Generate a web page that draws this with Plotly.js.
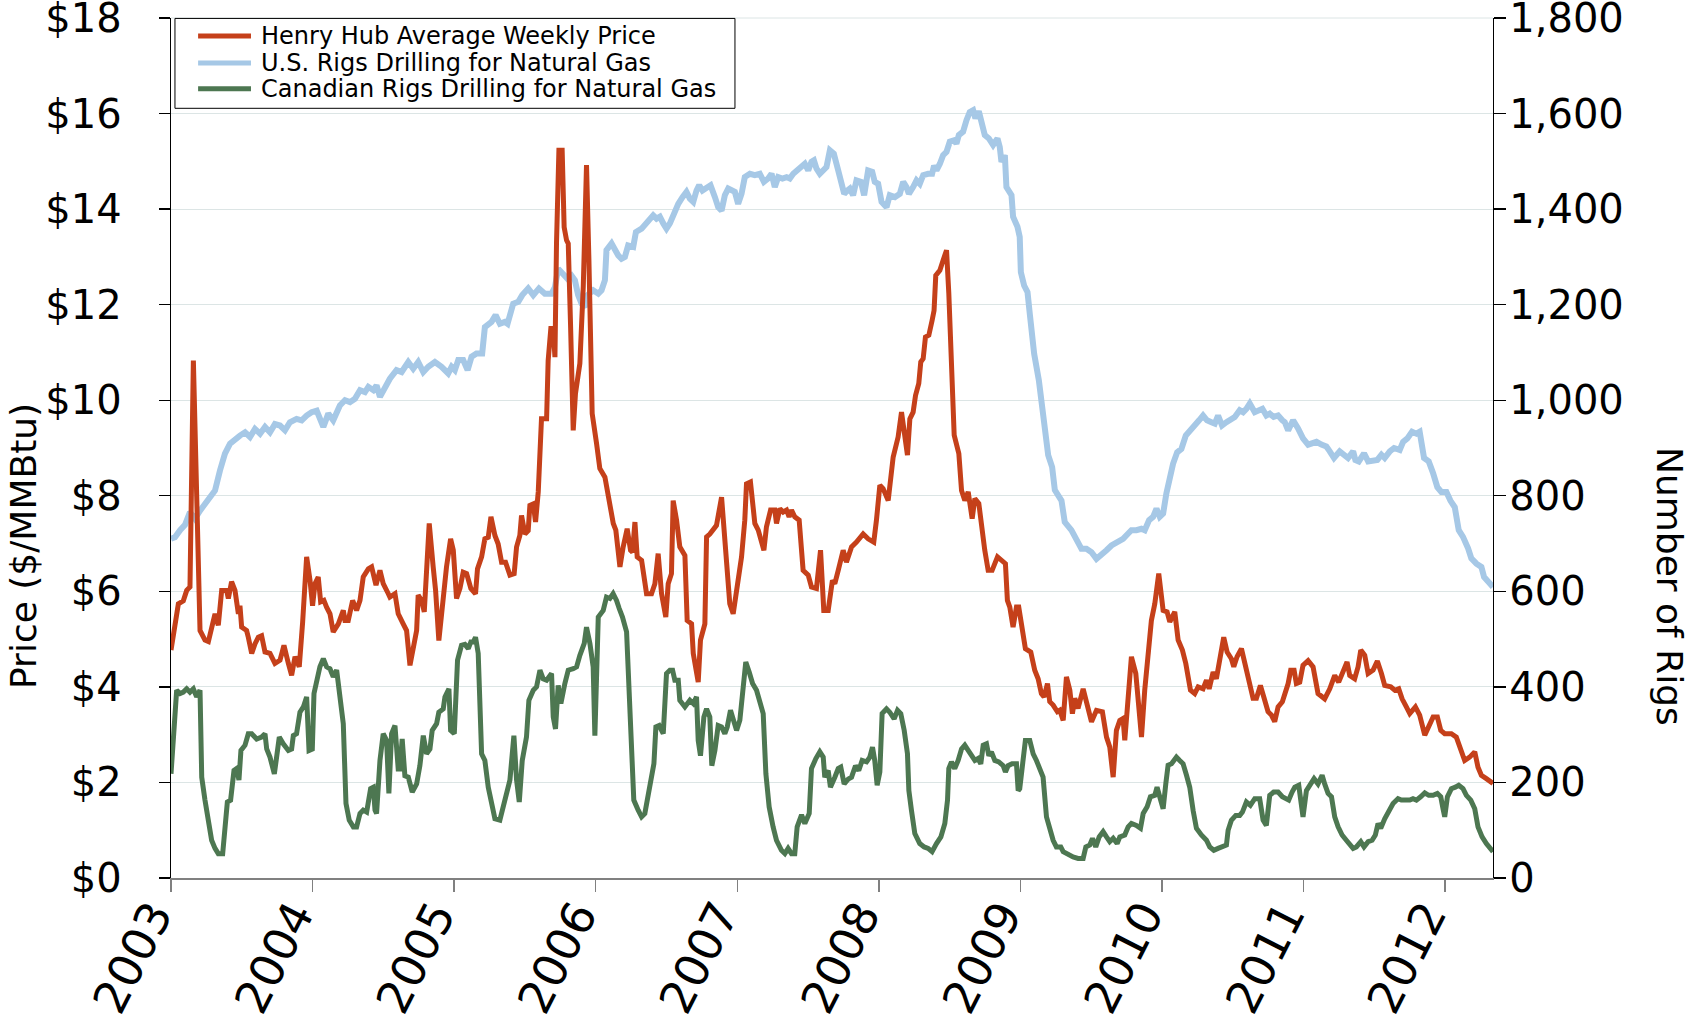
<!DOCTYPE html>
<html>
<head>
<meta charset="utf-8">
<script src="https://cdn.plot.ly/plotly-3.0.1.min.js"></script>
<style>html,body{margin:0;padding:0;background:#fff;}#chart{width:1692px;height:1024px;}</style>
</head>
<body>
<div id="chart"></div>
<script>
// ---- Data (decimal years) ----
const yearTicks = [2003, 2004, 2005, 2006, 2007, 2008, 2009, 2010, 2011, 2012];
const yearLabels = ["2003", "2004", "2005", "2006", "2007", "2008", "2009", "2010", "2011", "2012"];
const priceTicks = [0, 2, 4, 6, 8, 10, 12, 14, 16, 18];
const priceLabels = ["$0", "$2", "$4", "$6", "$8", "$10", "$12", "$14", "$16", "$18"];
const rigTicks = [0, 200, 400, 600, 800, 1000, 1200, 1400, 1600, 1800];
const rigLabels = ["0", "200", "400", "600", "800", "1,000", "1,200", "1,400", "1,600", "1,800"];
const seriesNames = ["Henry Hub Average Weekly Price", "U.S. Rigs Drilling for Natural Gas", "Canadian Rigs Drilling for Natural Gas"];

// Henry Hub Average Weekly Price ($/MMBtu)
const hhDates = [
2003.000,2003.052,2003.087,2003.111,2003.134,2003.158,2003.205,2003.240,2003.264,2003.311,
2003.334,2003.358,2003.393,2003.405,2003.428,2003.452,2003.476,2003.487,2003.499,2003.534,
2003.546,2003.570,2003.593,2003.617,2003.640,2003.664,2003.699,2003.734,2003.770,2003.798,
2003.829,2003.852,2003.876,2003.906,2003.930,2003.958,2003.982,2004.000,2004.017,2004.040,
2004.057,2004.080,2004.099,2004.123,2004.146,2004.182,2004.217,2004.229,2004.252,2004.283,
2004.311,2004.335,2004.358,2004.394,2004.417,2004.448,2004.476,2004.499,2004.535,
2004.546,2004.582,2004.605,2004.640,2004.664,2004.688,2004.711,2004.735,2004.746,2004.770,
2004.789,2004.824,2004.852,2004.869,2004.892,2004.923,2004.946,2004.975,2004.994,2005.017,
2005.041,2005.064,2005.088,2005.118,2005.151,2005.165,2005.194,2005.217,2005.241,2005.260,
2005.288,2005.311,2005.335,2005.363,2005.394,2005.424,2005.441,2005.464,2005.476,2005.500,
2005.523,2005.535,2005.559,2005.575,2005.594,
2005.617,2005.653,2005.664,2005.683,2005.700,2005.712,2005.723,2005.740,2005.763,2005.777,
2005.794,2005.806,2005.822,2005.841,2005.857,2005.888,2005.912,2005.935,2005.952,2005.975,
2006.006,2006.029,2006.065,
2006.124,2006.142,2006.171,2006.194,2006.222,2006.246,2006.260,2006.277,2006.293,2006.324,
2006.359,2006.394,2006.418,2006.441,2006.465,2006.495,2006.512,2006.535,2006.547,2006.571,
2006.594,2006.630,2006.646,2006.677,2006.689,2006.724,2006.740,2006.771,2006.783,2006.806,
2006.830,2006.853,2006.889,2006.924,2006.947,2006.971,2007.006,2007.030,2007.053,2007.065,
2007.093,2007.124,2007.148,2007.188,2007.206,2007.235,2007.265,2007.277,2007.301,2007.324,
2007.348,2007.366,2007.383,2007.406,2007.437,2007.465,2007.501,2007.524,2007.559,2007.588,
2007.611,2007.642,2007.672,
2007.689,2007.713,2007.748,2007.771,2007.807,2007.842,2007.889,2007.924,2007.964,2007.983,
2008.007,2008.030,2008.066,2008.101,2008.136,2008.160,2008.183,2008.202,2008.219,2008.242,
2008.259,2008.282,2008.296,2008.313,2008.329,2008.353,2008.376,2008.390,2008.402,2008.431,
2008.454,2008.478,2008.494,2008.513,2008.532,2008.565,2008.584,2008.607,2008.631,2008.659,
2008.678,2008.706,2008.725,2008.748,2008.772,2008.800,2008.838,2008.866,2008.894,2008.908,
2008.925,2008.948,2008.972,2008.988,2009.012,2009.035,2009.073,2009.101,2009.125,2009.148,
2009.167,2009.191,2009.207,2009.231,2009.261,
2009.278,2009.302,2009.325,2009.349,2009.367,2009.384,2009.407,2009.443,2009.466,2009.502,
2009.537,2009.579,2009.608,2009.631,2009.655,2009.678,2009.702,2009.725,2009.737,2009.761,
2009.784,2009.815,2009.838,2009.855,2009.878,2009.902,2009.925,2009.949,2009.977,2010.008,
2010.036,2010.055,2010.090,2010.114,2010.144,2010.168,2010.201,2010.231,2010.255,2010.290,
2010.314,2010.333,2010.361,2010.384,2010.408,2010.436,2010.460,2010.490,2010.507,2010.530,
2010.561,2010.584,2010.608,2010.643,2010.667,2010.695,2010.719,2010.749,2010.773,2010.796,
2010.820,2010.850,
2010.891,2010.909,2010.933,2010.949,2010.973,2010.996,2011.032,2011.067,2011.102,2011.149,
2011.185,2011.220,2011.248,2011.279,2011.307,2011.326,2011.361,2011.385,2011.404,2011.432,
2011.456,2011.491,2011.521,2011.550,2011.573,2011.616,2011.644,2011.672,2011.696,2011.726,
2011.750,2011.790,2011.820,2011.856,2011.879,2011.915,2011.945,2011.969,2011.997,2012.044,
2012.079,2012.115,2012.138,2012.173,2012.209,2012.232,2012.256,2012.291,2012.338
];
const hhPrice = [
4.77,5.74,5.80,6.02,6.09,10.83,5.18,4.98,4.95,5.53,
5.29,6.02,6.02,5.85,6.20,6.02,5.53,5.70,5.25,5.18,
5.04,4.70,4.90,5.04,5.07,4.73,4.70,4.49,4.56,4.87,
4.49,4.24,4.63,4.42,5.36,6.72,6.23,5.70,6.16,6.30,
5.78,5.81,5.67,5.53,5.15,5.32,5.60,5.39,5.39,5.81,
5.60,5.81,6.30,6.47,6.51,6.13,6.44,6.16,5.95,
5.88,5.95,5.53,5.32,5.18,4.45,4.87,5.18,5.92,5.81,
5.57,7.42,6.51,6.02,4.97,5.88,6.51,7.10,6.86,5.85,
6.06,6.40,6.37,6.06,5.95,6.47,6.72,7.10,7.13,7.56,
7.17,6.99,6.61,6.61,6.34,6.37,6.93,7.17,7.59,7.20,
7.27,7.80,7.83,7.45,8.08,
9.61,9.61,10.83,11.50,11.50,10.90,13.28,15.23,15.23,13.62,
13.35,13.28,11.60,9.37,10.14,10.77,12.37,14.92,12.93,9.72,
9.09,8.57,8.39,
7.42,7.28,6.51,6.93,7.31,6.86,6.82,7.45,6.72,6.65,
5.95,5.95,6.16,6.79,5.95,5.46,6.16,6.37,7.90,7.49,
6.93,6.75,5.39,5.32,4.70,4.10,4.98,5.32,7.14,7.20,
7.31,7.38,7.97,6.79,5.74,5.53,6.16,6.72,7.49,8.25,
8.29,7.42,7.28,6.86,7.35,7.70,7.70,7.42,7.73,7.66,
7.70,7.56,7.70,7.56,7.49,6.44,6.34,6.09,6.06,6.86,
5.60,5.60,6.23,
6.16,6.44,6.86,6.61,6.93,7.03,7.20,7.10,7.03,7.49,
8.22,8.15,7.90,8.81,9.23,9.75,9.18,8.85,9.61,9.75,
10.10,10.35,10.80,10.87,11.32,11.36,11.67,11.88,12.61,12.72,
12.93,13.14,12.24,10.97,9.27,8.88,8.11,7.90,8.08,7.52,
7.94,7.84,7.28,6.86,6.44,6.44,6.72,6.65,6.58,5.81,
5.67,5.25,5.67,5.67,5.25,4.80,4.73,4.35,4.17,3.86,
3.79,4.07,3.69,3.62,3.48,
3.51,3.30,4.21,3.93,3.44,3.76,3.55,3.96,3.65,3.27,
3.51,3.48,2.95,2.74,2.11,3.09,3.30,3.34,2.88,3.93,
4.63,4.28,3.51,2.95,3.93,4.63,5.39,5.74,6.37,5.60,
5.57,5.36,5.57,4.98,4.77,4.49,3.93,3.86,4.00,3.96,
4.14,3.96,4.31,4.17,4.59,5.04,4.73,4.59,4.42,4.63,
4.80,4.49,4.21,3.76,3.76,4.03,3.79,3.48,3.41,3.27,
3.58,3.69,
4.07,4.35,4.35,4.07,4.10,4.45,4.55,4.42,3.86,3.75,
3.96,4.24,4.10,4.31,4.52,4.24,4.17,4.42,4.77,4.66,
4.28,4.35,4.54,4.28,4.03,4.00,3.93,3.96,3.75,3.58,
3.44,3.58,3.41,2.99,3.13,3.37,3.37,3.09,3.02,3.02,
2.95,2.67,2.46,2.53,2.64,2.32,2.15,2.08,1.98
];

// U.S. Rigs Drilling for Natural Gas
const usDates = [
2003.000,2003.028,2003.064,2003.099,2003.134,2003.169,2003.205,2003.240,2003.275,2003.311,
2003.346,2003.381,2003.417,2003.452,2003.487,2003.523,2003.558,2003.593,2003.629,2003.664,
2003.699,2003.734,2003.770,2003.805,2003.840,2003.887,2003.923,2003.958,2003.993,2004.029,
2004.052,2004.076,2004.111,2004.146,2004.193,2004.229,2004.264,2004.299,2004.335,2004.370,
2004.394,2004.429,2004.452,2004.476,
2004.546,2004.593,2004.629,2004.676,2004.711,2004.746,2004.782,2004.817,2004.864,2004.911,
2004.958,2004.982,2005.005,2005.029,2005.064,2005.095,2005.123,2005.158,2005.198,2005.217,
2005.264,2005.293,2005.323,2005.358,2005.377,2005.417,2005.453,2005.481,2005.523,2005.559,
2005.599,2005.641,2005.688,2005.712,2005.735,2005.770,2005.801,2005.829,2005.853,2005.876,
2005.900,2005.923,2005.942,2005.982,2006.018,2006.041,2006.065,2006.076,2006.112,
2006.159,2006.182,2006.206,2006.229,2006.265,2006.284,2006.324,2006.359,2006.406,2006.430,
2006.453,2006.477,2006.500,2006.524,2006.552,2006.583,2006.613,2006.641,2006.665,2006.689,
2006.712,2006.731,2006.754,2006.783,2006.811,2006.842,2006.865,2006.889,2006.912,2006.936,
2006.959,2006.983,2007.006,2007.030,2007.053,2007.089,2007.124,2007.159,2007.188,2007.218,
2007.242,2007.265,2007.289,2007.319,2007.348,2007.371,2007.395,2007.423,2007.454,2007.477,
2007.501,2007.524,2007.541,2007.559,2007.583,2007.607,2007.630,2007.654,2007.682,
2007.713,2007.736,2007.755,2007.778,2007.795,2007.818,2007.842,2007.873,2007.896,2007.924,
2007.953,2007.971,2007.995,2008.019,2008.054,2008.077,2008.113,2008.148,2008.172,2008.195,
2008.212,2008.242,2008.266,2008.289,2008.313,2008.348,2008.376,2008.390,2008.407,2008.431,
2008.454,2008.478,2008.501,2008.532,2008.548,2008.565,2008.595,2008.619,2008.642,2008.666,
2008.682,2008.706,2008.725,2008.748,2008.777,2008.807,2008.838,2008.854,2008.866,2008.890,
2008.901,2008.937,2008.948,2008.979,2008.995,2009.003,2009.026,2009.050,2009.066,2009.097,
2009.130,2009.160,2009.196,2009.224,2009.243,
2009.290,2009.313,2009.360,2009.396,2009.431,2009.466,2009.502,2009.537,2009.572,2009.608,
2009.643,2009.690,2009.725,2009.761,2009.784,2009.819,2009.855,2009.878,2009.909,2009.937,
2009.961,2009.984,2010.008,2010.031,2010.055,2010.078,2010.107,2010.137,2010.168,2010.196,
2010.231,2010.262,2010.290,2010.318,2010.349,2010.373,2010.396,2010.424,2010.455,2010.490,
2010.514,2010.549,2010.573,2010.596,2010.620,2010.655,2010.683,2010.709,2010.737,2010.761,
2010.789,2010.820,2010.850,
2010.867,2010.891,2010.926,2010.961,2010.996,2011.032,2011.067,2011.091,2011.126,2011.161,
2011.185,2011.215,2011.255,2011.291,2011.314,2011.350,2011.366,2011.390,2011.427,2011.456,
2011.491,2011.521,2011.550,2011.573,2011.609,2011.639,2011.679,2011.703,2011.733,2011.766,
2011.797,2011.820,2011.851,2011.884,2011.915,2011.945,2011.973,2012.009,2012.037,2012.068,
2012.096,2012.126,2012.162,2012.185,2012.221,2012.256,2012.275,2012.298,2012.315,2012.338
];
const usRigs = [
710,713,728,739,766,752,769,783,794,811,
853,888,909,919,926,933,923,940,930,944,
933,950,947,937,954,961,958,968,975,978,
961,944,972,958,989,1000,996,1003,1021,1017,
1028,1021,1031,1007,
1045,1063,1059,1080,1066,1080,1059,1070,1080,1070,
1056,1070,1063,1084,1084,1063,1091,1098,1098,1153,
1164,1178,1160,1164,1160,1202,1206,1220,1234,1220,
1234,1223,1223,1237,1275,1265,1254,1261,1251,1220,
1202,1195,1220,1230,1223,1230,1251,1314,1328,
1303,1296,1300,1324,1321,1352,1359,1370,1387,1380,
1384,1370,1359,1370,1391,1411,1425,1436,1422,1415,
1439,1450,1439,1446,1450,1425,1404,1397,1429,1443,
1439,1436,1411,1432,1467,1474,1471,1474,1457,1464,
1474,1446,1467,1464,1467,1464,1474,1481,1488,1495,
1481,1499,1502,1485,1474,1481,1488,1523,1516,
1481,1453,1432,1439,1443,1429,1460,1457,1429,1481,
1478,1457,1453,1415,1404,1429,1425,1432,1457,1446,
1432,1446,1460,1453,1471,1474,1474,1491,1481,1495,
1513,1520,1541,1544,1537,1555,1562,1586,1603,1607,
1590,1605,1586,1555,1548,1534,1548,1530,1499,1513,
1446,1429,1384,1363,1342,1268,1240,1226,1181,1097,
1042,979,885,860,812,
790,745,728,710,689,689,682,668,679,686,
696,703,710,721,728,728,731,728,749,756,
773,756,763,805,840,867,891,898,926,937,
947,958,968,958,954,951,968,947,954,961,
965,979,975,982,993,975,979,982,968,972,
965,968,958,
954,937,958,941,920,907,910,913,907,903,
893,879,893,886,879,893,875,872,889,872,
875,875,886,879,893,900,896,913,920,934,
930,934,879,872,847,818,808,808,790,776,
728,714,690,669,658,651,630,623,616,609
];

// Canadian Rigs Drilling for Natural Gas
const caDates = [
2003.000,2003.016,2003.040,2003.064,2003.087,2003.111,2003.134,2003.158,2003.181,2003.205,
2003.217,2003.240,2003.264,2003.287,2003.311,2003.334,2003.365,2003.381,2003.398,2003.421,
2003.445,2003.464,2003.480,2003.494,2003.523,2003.546,2003.570,2003.605,2003.640,2003.664,
2003.676,2003.699,2003.730,2003.746,2003.765,2003.793,2003.829,2003.852,2003.864,2003.887,
2003.911,2003.935,2003.958,2003.975,2003.998,2004.010,2004.029,2004.052,2004.076,2004.099,
2004.123,2004.146,2004.170,2004.193,2004.217,2004.236,2004.259,2004.288,2004.311,2004.335,
2004.358,2004.382,2004.410,2004.429,2004.441,2004.452,2004.476,2004.499,2004.523,
2004.539,2004.558,2004.582,2004.605,2004.617,2004.633,2004.652,2004.676,2004.704,2004.735,
2004.758,2004.782,2004.805,2004.829,2004.845,2004.876,2004.892,2004.923,2004.935,2004.963,
2004.975,2005.001,2005.024,2005.052,2005.076,2005.100,2005.118,2005.135,2005.151,2005.170,
2005.194,2005.217,2005.241,2005.269,2005.288,2005.323,2005.347,2005.370,2005.394,2005.422,
2005.441,2005.460,2005.481,2005.511,2005.528,2005.559,2005.582,2005.606,2005.629,2005.653,
2005.688,2005.700,2005.716,2005.735,2005.754,2005.782,2005.806,2005.841,2005.865,2005.888,
2005.919,2005.935,2005.959,2005.982,2005.994,2006.018,2006.053,2006.076,2006.100,2006.123,
2006.147,2006.166,2006.189,2006.218,2006.237,2006.253,2006.269,2006.300,2006.324,2006.347,
2006.371,2006.394,2006.411,2006.425,2006.448,2006.477,2006.500,2006.524,2006.543,2006.559,
2006.583,2006.594,2006.630,2006.665,2006.689,2006.712,2006.724,2006.740,2006.764,2006.783,
2006.806,2006.820,2006.842,2006.865,2006.889,2006.912,2006.929,2006.952,2006.976,2006.995,
2007.018,2007.037,2007.060,2007.084,2007.108,2007.136,2007.159,2007.183,2007.202,2007.225,
2007.253,2007.277,2007.312,2007.336,2007.359,2007.383,2007.406,2007.423,2007.454,2007.477,
2007.508,2007.524,2007.555,2007.583,2007.607,2007.618,2007.642,2007.658,2007.689,
2007.713,2007.731,2007.755,2007.783,2007.807,2007.835,2007.858,2007.882,2007.913,2007.936,
2007.955,2007.971,2007.988,2008.007,2008.023,2008.054,2008.077,2008.108,2008.132,2008.155,
2008.179,2008.202,2008.212,2008.230,2008.254,2008.289,2008.320,2008.348,2008.376,2008.407,
2008.438,2008.466,2008.485,2008.494,2008.513,2008.536,2008.560,2008.584,2008.607,2008.631,
2008.654,2008.678,2008.701,2008.720,2008.737,2008.760,2008.777,2008.795,2008.819,2008.847,
2008.878,2008.894,2008.913,2008.941,2008.972,2008.984,2008.995,2009.019,2009.035,2009.066,
2009.090,2009.113,2009.137,2009.160,2009.184,2009.207,2009.231,2009.254,2009.285,
2009.302,2009.337,2009.372,2009.407,2009.443,2009.462,2009.490,2009.509,2009.532,2009.556,
2009.584,2009.608,2009.631,2009.655,2009.683,2009.702,2009.737,2009.761,2009.784,2009.819,
2009.848,2009.867,2009.895,2009.918,2009.949,2009.965,2009.984,2010.008,2010.027,2010.043,
2010.067,2010.102,2010.125,2010.149,2010.173,2010.196,2010.220,2010.243,2010.278,2010.314,
2010.337,2010.366,2010.396,2010.427,2010.455,2010.467,2010.490,2010.521,2010.549,2010.568,
2010.596,2010.624,2010.655,2010.690,2010.714,2010.737,2010.761,2010.789,2010.820,2010.850,
2010.895,2010.919,2010.938,2010.966,2010.996,2011.020,2011.044,2011.074,2011.102,2011.131,
2011.149,2011.173,2011.197,2011.220,2011.244,2011.272,2011.302,2011.326,2011.350,2011.373,
2011.404,2011.427,2011.456,2011.484,2011.507,2011.526,2011.545,2011.573,2011.601,2011.632,
2011.667,2011.691,2011.719,2011.750,2011.773,2011.797,2011.827,2011.856,2011.884,2011.915,
2011.945,2011.969,2011.985,2011.997,2012.016,2012.044,2012.072,2012.096,2012.126,2012.150,
2012.181,2012.209,2012.232,2012.261,2012.291,2012.315,2012.338
];
const caRigs = [
218,288,393,386,389,396,389,396,379,393,
211,163,114,79,62,51,51,100,159,163,
225,229,205,267,278,302,302,291,295,302,
270,253,218,253,295,281,267,270,298,302,
347,358,379,267,270,386,414,442,459,442,
438,421,435,372,323,156,121,107,107,135,
142,138,187,190,142,135,246,302,288,
177,302,319,228,228,291,214,211,180,197,
235,298,260,270,309,323,347,354,379,396,
309,302,456,487,489,480,494,494,504,470,
260,246,190,142,124,121,149,177,205,298,
205,159,246,295,372,393,400,435,417,414,
428,337,312,403,365,407,435,438,442,466,
491,525,491,442,298,546,560,588,585,595,
581,564,546,515,393,246,163,142,128,135,
177,225,239,316,319,302,428,435,435,414,
414,372,358,372,365,379,288,256,337,354,
337,235,267,319,316,302,316,351,323,309,
330,400,452,431,407,393,365,344,218,149,
107,79,58,51,62,51,51,107,132,114,
135,229,250,264,253,211,225,190,211,
229,232,197,207,211,235,225,246,243,253,
274,246,194,222,344,354,347,333,351,344,
309,260,183,142,93,72,65,62,55,72,
86,114,163,229,243,229,246,270,278,267,
256,246,250,239,278,281,256,264,246,243,
235,222,235,239,239,183,187,246,288,288,
260,246,225,211,128,100,79,65,65,
55,48,44,41,41,65,69,83,65,86,
97,86,76,83,72,86,90,107,114,110,
104,135,149,170,173,190,166,145,198,236,
239,253,246,239,215,190,141,104,90,79,
65,58,62,65,69,100,121,131,131,138,
159,152,166,166,121,110,173,180,180,170,
163,180,190,194,128,183,194,208,197,215,
197,177,170,128,107,90,79,69,62,65,
76,65,76,79,90,114,104,124,142,156,
166,163,163,163,166,163,170,178,173,173,
177,170,145,128,170,187,190,194,187,173,
163,145,107,86,72,62,55
];

const colRed = '#C5401A';
const colBlue = '#A6C8E6';
const colGreen = '#4D7751';
const fontFam = 'DejaVu Sans, Arial, sans-serif';
const seriesColors = [colRed, colBlue, colGreen];

const traces = [
  { x: usDates, y: usRigs, name: seriesNames[1], type: 'scatter', mode: 'lines',
    yaxis: 'y', line: { color: colBlue, width: 6 }, showlegend: false },
  { x: caDates, y: caRigs, name: seriesNames[2], type: 'scatter', mode: 'lines',
    yaxis: 'y', line: { color: colGreen, width: 5 }, showlegend: false },
  { x: hhDates, y: hhPrice, name: seriesNames[0], type: 'scatter', mode: 'lines',
    yaxis: 'y2', line: { color: colRed, width: 5 }, showlegend: false }
];

// Legend box drawn in paper coordinates (top-left corner of the plot)
const legRowY = [0.9792, 0.9478, 0.9177];
const legendShapes = [
  { type: 'rect', xref: 'paper', yref: 'paper', x0: 0.003, x1: 0.4266, y0: 0.895, y1: 0.9995,
    line: { color: '#000', width: 1 }, fillcolor: '#ffffff', layer: 'above' }
].concat(seriesNames.map((n, i) => ({
  type: 'line', xref: 'paper', yref: 'paper', x0: 0.0205, x1: 0.0605, y0: legRowY[i], y1: legRowY[i],
  line: { color: seriesColors[i], width: 5 }, layer: 'above'
})));
const legendTexts = seriesNames.map((n, i) => ({
  text: n, xref: 'paper', yref: 'paper', x: 0.0663, y: legRowY[i],
  xanchor: 'left', yanchor: 'middle', showarrow: false,
  font: { size: 24, family: fontFam, color: '#000' }
}));

const layout = {
  width: 1692, height: 1024,
  paper_bgcolor: '#ffffff', plot_bgcolor: '#ffffff',
  margin: { l: 171, r: 199, t: 18, b: 146, pad: 0 },
  font: { family: fontFam, color: '#000000' },
  showlegend: false,
  xaxis: {
    range: [2003, 2012.338],
    tickmode: 'array', tickvals: yearTicks, ticktext: yearLabels,
    tickangle: -63, ticks: 'outside', ticklen: 12, tickwidth: 1.5, tickcolor: '#808080',
    showline: true, linecolor: '#808080', linewidth: 2,
    showgrid: false, zeroline: false,
    tickfont: { size: 46, family: fontFam, color: '#000' },
    ticklabelstandoff: -22, ticklabelshift: -18, ticklabeloverflow: 'allow'
  },
  yaxis: {
    range: [0, 1800], side: 'right',
    tickmode: 'array', tickvals: rigTicks, ticktext: rigLabels,
    ticks: 'outside', ticklen: 12, tickwidth: 1.3, tickcolor: '#000',
    showline: true, linecolor: '#000', linewidth: 1.3,
    showgrid: true, gridcolor: '#DCE5E5', gridwidth: 1, zeroline: false,
    tickfont: { size: 40, family: fontFam, color: '#000' },
    ticklabelstandoff: -5, ticklabeloverflow: 'allow'
  },
  yaxis2: {
    range: [0, 18], side: 'left', overlaying: 'y',
    tickmode: 'array', tickvals: priceTicks, ticktext: priceLabels,
    ticks: 'outside', ticklen: 11, tickwidth: 1.3, tickcolor: '#000',
    showline: true, linecolor: '#000', linewidth: 1.3,
    showgrid: false, zeroline: false,
    tickfont: { size: 40, family: fontFam, color: '#000' },
    ticklabelstandoff: 29, ticklabeloverflow: 'allow'
  },
  shapes: [
    { type: 'line', xref: 'paper', yref: 'paper', x0: 0, x1: 1, y0: 1, y1: 1,
      line: { color: '#DCE5E5', width: 1 }, layer: 'below' }
  ].concat(legendShapes),
  annotations: [
    { text: 'Price ($/MMBtu)', xref: 'paper', yref: 'paper', x: -0.112, y: 0.386,
      xanchor: 'center', yanchor: 'middle', textangle: -90, showarrow: false,
      font: { size: 36, family: fontFam, color: '#000' } },
    { text: 'Number of Rigs', xref: 'paper', yref: 'paper', x: 1.1335, y: 0.339,
      xanchor: 'center', yanchor: 'middle', textangle: 90, showarrow: false,
      font: { size: 36, family: fontFam, color: '#000' } }
  ].concat(legendTexts)
};

Plotly.newPlot('chart', traces, layout, { displayModeBar: false, staticPlot: true });
</script>
</body>
</html>
